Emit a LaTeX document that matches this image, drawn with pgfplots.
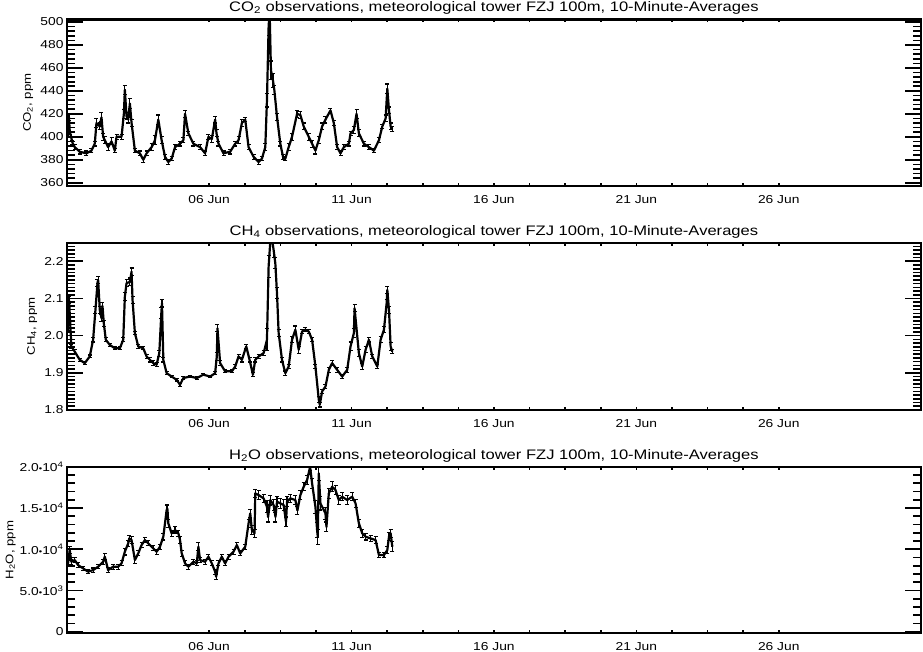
\documentclass[border=0pt]{standalone}
\usepackage{pgfplots}
\pgfplotsset{compat=1.18}
\usepackage{fontspec}
\setmainfont{Liberation Sans}[FakeStretch=1.2]
\newcommand\titlefont{\fontsize{13.8}{16}\selectfont}
\newcommand\tickfont{\fontsize{11.5}{13}\selectfont}
\newcommand\labfont{\fontsize{11}{13}\selectfont}

\pgfplotsset{
 panel/.style={
  scale only axis, width=854.5pt,
  xmin=1, xmax=31,
  xtick={6,11,16,21,26}, xticklabels={06 Jun,11 Jun,16 Jun,21 Jun,26 Jun},
  minor x tick num=3,
  tick align=inside,
  axis line style={line width=2.2pt},
  tick style={line width=1.6pt, black},
  major tick length=16pt, minor tick length=8pt,
  xtick style={/pgfplots/major tick length=3pt, /pgfplots/minor tick length=3pt},
  title style={at={(0.5,1)}, anchor=base, yshift=1.7pt, font=\titlefont, inner sep=0pt},
  xticklabel style={anchor=base, yshift=-17.5pt, font=\tickfont, inner sep=0pt},
  yticklabel style={anchor=east, xshift=-3pt, font=\tickfont, inner sep=0pt},
  ylabel style={font=\labfont, inner sep=0pt},
  ylabel shift=7pt,
  scaled y ticks=false,
  /pgf/number format/assume math mode=true,
  anchor=north west,
 },
 ser/.style={black, line width=2.2pt, no markers, line join=round,
  error bars/.cd, y dir=both, y explicit,
  error bar style={line width=1.1pt, black},
  error mark options={rotate=90, mark size=2pt, line width=1.1pt, black}},
}

\pgfplotstableread{
d v e
1.047 403 3
1.080 417 3
1.106 405 3
1.200 395 2
1.282 391 2
1.458 387 2
1.692 385.6 2
1.869 388 2
1.986 394 2
2.045 412 4
2.162 409 3
2.221 417 4
2.280 400 3
2.338 397 3
2.455 391 3
2.573 396 3
2.690 388 2
2.749 400 2
2.925 400 2
3.007 420 4
3.042 441 4
3.100 418 3
3.160 415 3
3.218 429 4
3.277 412 3
3.394 388 2
3.570 385.6 2
3.688 380 2
3.805 385.6 2
3.981 391 3
4.099 397 4
4.216 415 4
4.333 397 3
4.451 382.6 2
4.568 378 2
4.685 381 2
4.803 391 2
4.979 394 2
5.096 397 2
5.155 420 3
5.272 403 2
5.448 394 2
5.683 391 2
5.859 385.6 2
5.977 400 2
6.094 398 3
6.211 415 3
6.260 403 3
6.329 394 2
6.505 385.6 2
6.739 387 2
6.915 394 2
7.033 397 3
7.150 412 3
7.268 415 2
7.385 391 2
7.561 382.6 2
7.737 378 2
7.854 381 2
7.972 391 3
8.031 432 6
8.089 496 8
8.124 510 8
8.171 458 8
8.242 449 6
8.289 441 4
8.383 417.5 3
8.500 394 2
8.594 382.6 2
8.676 381 2
8.793 391 3
8.911 400 3
9.087 420 3
9.204 419 3
9.322 409 3
9.498 400 3
9.615 394 3
9.732 388 3
9.850 397 3
9.967 409 3
10.085 415 3
10.261 423 2
10.378 412 2
10.495 391 2
10.613 385.6 2
10.730 391 2
10.906 394 2
10.965 403 2
11.082 406 3
11.176 420 4
11.258 403 3
11.434 394 2
11.610 391 2
11.786 388 2
11.962 397 2
12.080 409 2
12.197 416 3
12.256 442 4
12.315 423 3
12.373 409 3
12.432 407 2
}\cotwo

\pgfplotstableread{
d v e
1.047 2.025 0.01
1.082 2.096 0.01
1.164 1.971 0.005
1.282 1.957 0.005
1.458 1.935 0.004
1.634 1.926 0.004
1.810 1.944 0.004
1.927 1.989 0.006
2.009 2.069 0.01
2.080 2.141 0.01
2.103 2.150 0.01
2.162 2.069 0.01
2.221 2.047 0.01
2.256 2.080 0.01
2.303 2.033 0.008
2.373 1.989 0.005
2.514 1.975 0.004
2.690 1.966 0.004
2.866 1.966 0.004
2.984 1.989 0.005
3.042 2.105 0.01
3.101 2.141 0.01
3.218 2.145 0.01
3.277 2.172 0.01
3.312 2.096 0.01
3.394 2.007 0.005
3.512 1.971 0.005
3.688 1.966 0.004
3.805 1.944 0.005
3.922 1.935 0.006
4.040 1.926 0.006
4.157 1.922 0.006
4.251 1.953 0.008
4.322 2.060 0.015
4.345 2.087 0.01
4.392 1.935 0.006
4.509 1.899 0.004
4.685 1.890 0.003
4.862 1.881 0.003
4.979 1.868 0.004
5.096 1.886 0.003
5.331 1.890 0.003
5.566 1.886 0.003
5.800 1.895 0.003
6.035 1.890 0.003
6.211 1.899 0.004
6.270 1.944 0.01
6.293 2.020 0.01
6.387 1.926 0.006
6.563 1.904 0.004
6.798 1.904 0.004
6.915 1.917 0.005
7.033 1.944 0.006
7.150 1.935 0.006
7.303 1.971 0.006
7.420 1.935 0.006
7.538 1.895 0.005
7.620 1.935 0.006
7.737 1.944 0.006
7.913 1.953 0.006
8.031 1.989 0.03
8.089 2.186 0.03
8.171 2.280 0.03
8.265 2.230 0.02
8.324 2.195 0.015
8.383 2.114 0.015
8.441 2.007 0.01
8.559 1.935 0.006
8.676 1.899 0.006
8.793 1.917 0.006
8.911 1.989 0.008
9.028 2.016 0.01
9.146 1.962 0.01
9.263 2.011 0.006
9.380 2.016 0.005
9.498 2.011 0.005
9.615 1.989 0.005
9.732 1.917 0.006
9.850 1.828 0.008
9.885 1.814 0.006
9.967 1.850 0.006
10.085 1.863 0.006
10.202 1.908 0.006
10.319 1.926 0.006
10.495 1.908 0.006
10.671 1.890 0.006
10.847 1.908 0.006
10.965 1.971 0.012
11.082 2.007 0.012
11.106 2.074 0.01
11.258 1.953 0.01
11.376 1.917 0.008
11.493 1.962 0.008
11.610 1.989 0.006
11.728 1.944 0.006
11.904 1.917 0.006
12.021 1.989 0.008
12.138 2.016 0.008
12.232 2.087 0.01
12.256 2.123 0.01
12.315 2.069 0.01
12.373 1.971 0.01
12.432 1.957 0.006
}\chfour

\pgfplotstableread{
d v e
1.047 8284 300
1.106 9900 400
1.164 8485 300
1.282 8687 300
1.399 8081 300
1.575 7677 250
1.751 7273 250
1.927 7475 250
2.103 7879 250
2.279 8485 300
2.338 9090 400
2.455 7475 300
2.631 7879 300
2.808 7879 300
2.925 8284 300
3.042 9697 400
3.160 10707 400
3.195 11310 400
3.277 11110 400
3.394 8687 400
3.512 9495 300
3.629 10505 300
3.746 11110 300
3.864 10707 300
4.040 10101 300
4.157 9697 300
4.275 10303 300
4.392 11515 400
4.509 14747 500
4.533 14950 500
4.568 13130 500
4.685 11920 400
4.803 12320 400
4.920 11920 400
4.979 11110 400
5.038 9495 400
5.155 8284 300
5.272 7879 300
5.448 8485 300
5.566 8284 300
5.624 10303 500
5.683 8687 300
5.859 8485 300
5.977 9090 300
6.094 8284 300
6.211 7273 300
6.246 6667 300
6.329 8284 300
6.446 9090 300
6.563 8284 300
6.681 9090 300
6.857 9697 300
6.974 10505 300
7.092 9495 300
7.268 10303 300
7.385 13130 500
7.444 14343 500
7.502 12320 500
7.596 11920 500
7.620 16768 500
7.737 16565 500
7.913 16162 500
8.031 15152 700
8.070 13900 600
8.148 15960 600
8.265 15354 700
8.330 13900 600
8.383 15758 600
8.500 15556 600
8.617 15354 700
8.700 13300 600
8.735 15758 600
8.852 16162 500
9.028 15960 500
9.100 14700 500
9.204 16565 500
9.322 17576 500
9.439 18384 500
9.521 19596 500
9.545 20000 500
9.615 17980 600
9.732 15152 800
9.791 12320 900
9.815 11515 900
9.850 19192 900
9.908 15556 800
10.085 14343 700
10.120 12700 600
10.202 16768 600
10.319 17576 600
10.437 17172 500
10.554 15960 500
10.671 16364 500
10.847 15960 500
11.023 16364 500
11.141 15556 500
11.258 13130 500
11.376 11920 500
11.493 11515 400
11.669 11313 400
11.845 11110 400
11.962 9293 300
12.138 9293 300
12.256 9899 400
12.315 11515 500
12.373 11920 500
12.432 10303 600
}\htwoo

\begin{document}
\begin{tikzpicture}
\useasboundingbox (0,0) rectangle (923pt,-652pt);

\begin{axis}[panel, at={(66.7pt,-19.5pt)}, height=166.2pt,
  ymin=357.4, ymax=502.2, ytick={360,380,...,500}, minor y tick num=4,
  title={CO\textsubscript{2} observations, meteorological tower FZJ 100m, 10-Minute-Averages},
  ylabel={CO\textsubscript{2}, ppm}]
\addplot[ser] table[x=d, y=v, y error=e] {\cotwo};
\end{axis}

\begin{axis}[panel, at={(66.7pt,-242.7pt)}, height=167.3pt,
  ymin=1.8, ymax=2.25, ytick={1.8,1.9,...,2.25}, minor y tick num=9,
  yticklabel style={/pgf/number format/.cd, fixed, fixed zerofill, precision=1},
  title={CH\textsubscript{4} observations, meteorological tower FZJ 100m, 10-Minute-Averages},
  ylabel={CH\textsubscript{4}, ppm}]
\addplot[ser] table[x=d, y=v, y error=e] {\chfour};
\end{axis}

\begin{axis}[panel, at={(66.7pt,-466.7pt)}, height=166.5pt,
  ymin=-180, ymax=20000, ytick={0,5000,10000,15000,20000}, minor y tick num=4,
  yticklabels={0, 5.0{\footnotesize•}10\textsuperscript{3}, 1.0{\footnotesize•}10\textsuperscript{4}, 1.5{\footnotesize•}10\textsuperscript{4}, 2.0{\footnotesize•}10\textsuperscript{4}},
  ylabel shift=4pt,
  title={H\textsubscript{2}O observations, meteorological tower FZJ 100m, 10-Minute-Averages},
  ylabel={H\textsubscript{2}O, ppm}]
\addplot[ser] table[x=d, y=v, y error=e] {\htwoo};
\end{axis}
\end{tikzpicture}
\end{document}
